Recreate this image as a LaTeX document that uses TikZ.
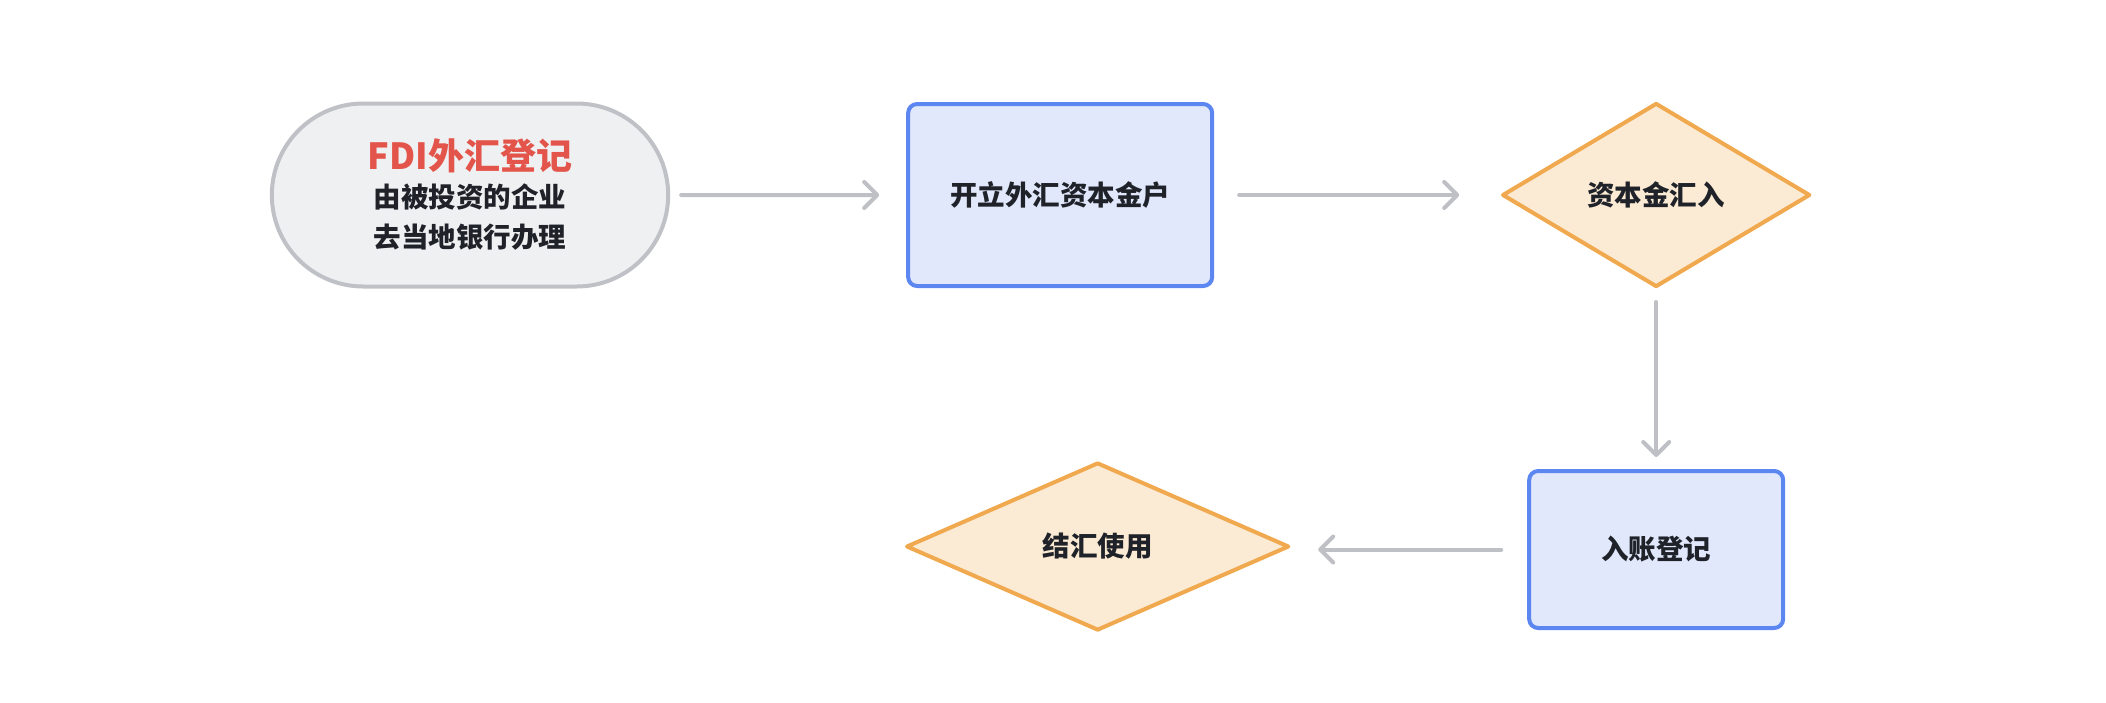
\documentclass[tikz,border=0pt]{standalone}
\usepackage{fontspec}
\setmainfont{Noto Sans CJK SC}
\RequirePackage{xcolor}
\definecolor{startfill}{HTML}{EFF0F2}
\definecolor{startline}{HTML}{C0C1C6}
\definecolor{acctfill}{HTML}{E1E8FC}
\definecolor{acctline}{HTML}{5C86F0}
\definecolor{decfill}{HTML}{FBEAD4}
\definecolor{decline}{HTML}{F0A94E}
\definecolor{flowline}{HTML}{BFC0C5}
\definecolor{titlered}{HTML}{E3554A}
\definecolor{textdark}{HTML}{1F2329}
\usetikzlibrary{positioning}
\usetikzlibrary{shapes.geometric,shapes.misc,arrows.meta}

\begin{document}
\begin{tikzpicture}[x=1pt,y=-1pt,
  every node/.style={line width=4pt,text=textdark,align=center,
    font=\fontsize{27.5}{40}\selectfont\bfseries},
  startbox/.style={draw=startline,fill=startfill,rounded rectangle,
    minimum width=403pt,minimum height=183pt},
  acctbox/.style={draw=acctline,fill=acctfill,rounded corners=9pt},
  decision/.style={draw=decline,fill=decfill,diamond,line join=round},
  flow/.style={draw=flowline,line width=4pt,line cap=round,
    -{Straight Barb[length=13pt,width=26pt,round]}}]
  \useasboundingbox (0,0) rectangle (2106,702);

  \node [startbox] (fdi) at (470,195) {{\fontsize{36}{48}\selectfont\color{titlered}FDI外汇登记}\\[-2pt]
    由被投资的企业\\去当地银行办理};
  \node [acctbox, minimum width=304pt, minimum height=182pt, right=236pt of fdi] (open) {开立外汇资本金户};
  \node [decision, minimum width=308pt, minimum height=184pt, right=286pt of open] (remit) {资本金汇入};

  \node [acctbox, minimum width=254pt, minimum height=157pt, below=180pt of remit] (book) {入账登记};
  \node [decision, minimum width=383pt, minimum height=168pt, left=236pt of book, yshift=3pt] (settle) {结汇使用};

  \draw [flow, shorten <=11pt, shorten >=27pt] (fdi) -- (open);
  \draw [flow, shorten <=25pt, shorten >=41pt] (open) -- (remit);
  \draw [flow, shorten <=13pt, shorten >=12pt] (remit) -- (book);
  \draw [flow, shorten <=26pt, shorten >=27pt] (book) -- (book -| settle.east);

\end{tikzpicture}
\end{document}
